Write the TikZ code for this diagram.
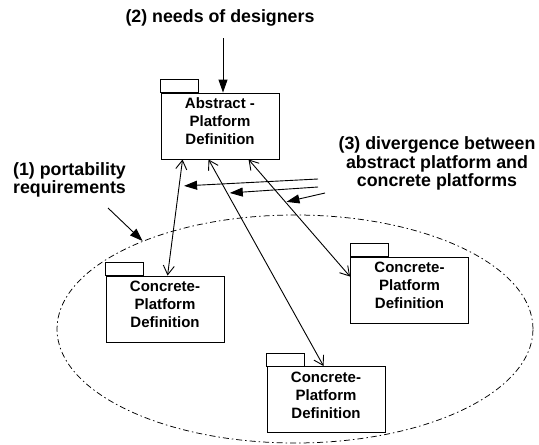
\documentclass[tikz,border=0pt]{standalone}
\usepackage{fontspec}
\setmainfont{Liberation Sans}
\usetikzlibrary{arrows.meta,shapes.geometric}
\newcommand{\pkgtext}[1]{\raisebox{0pt}[\height][\dimexpr\depth+6pt\relax]{\begin{tabular}{@{}c@{}}#1\end{tabular}}}
\tikzset{
  pkg/.style={draw, rectangle, line width=0.9pt, minimum width=118pt, minimum height=66pt,
    inner sep=0pt, font=\fontsize{15}{18}\selectfont\bfseries},
  tab/.style={draw, line width=0.9pt},
  lbl/.style={align=center, inner sep=0pt, font=\fontsize{17.8}{18.5}\selectfont\bfseries},
  rel/.style={line width=0.9pt, {Straight Barb[length=9pt,width=11pt]}-{Straight Barb[length=9pt,width=11pt]}},
  note/.style={line width=0.9pt, -{Triangle[length=13pt,width=9pt]}},
  grpstyle/.style={draw, ellipse, line width=0.75pt, inner sep=0pt, minimum width=476pt, minimum height=228pt,
    dash pattern=on 6pt off 3pt on 1.5pt off 3pt}
}
\begin{document}
\begin{tikzpicture}[x=1pt,y=-1pt]
\useasboundingbox (0,0) rectangle (539,445);
% group ellipse
\node[grpstyle] (grp) at (295,329) {};
% packages
\node[pkg] (abs) at (220,126) {\pkgtext{Abstract -\\Platform\\Definition}};
\node[pkg] (c1) at (165,309) {\pkgtext{Concrete-\\Platform\\Definition}};
\node[pkg] (c2) at (409.5,290) {\pkgtext{Concrete-\\Platform\\Definition}};
\node[pkg] (c3) at (326,399.5) {\pkgtext{Concrete-\\Platform\\Definition}};
\foreach \p in {abs,c1,c2,c3}{
  \draw[tab] (\p.north west) rectangle ++(38,-13);
}
% labels
\node[lbl] (l2) at (220,18) {(2) needs of designers};
\node[lbl] (l1) at (69.5,180) {(1) portability\\requirements};
\node[lbl] (l3) at (437,163.5) {(3) divergence between\\abstract platform and\\concrete platforms};
% relations
\draw[rel] ([xshift=22pt]abs.south west) -- coordinate[pos=0.23] (m1) ([xshift=62pt]c1.north west);
\draw[rel] ([xshift=48pt]abs.south west) -- coordinate[pos=0.163] (m2) ([xshift=57pt]c3.north west);
\draw[rel] ([xshift=88pt]abs.south west) -- coordinate[pos=0.364] (m3) ([yshift=-20pt]c2.north west);
% note arrows
\coordinate (n2) at (223,38);
\draw[note] (n2) -- ([xshift=3pt]abs.north);
\coordinate (n1) at (108,208);
\draw[note] (n1) -- (grp.150);
\coordinate (d1) at (318,179);
\coordinate (d2) at (318,187);
\coordinate (d3) at (325,193);
\draw[note, shorten >=5pt] (d1) -- (m1);
\draw[note, shorten >=2.5pt] (d2) -- (m2);
\draw[note, shorten >=1pt] (d3) -- (m3);
\end{tikzpicture}
\end{document}
